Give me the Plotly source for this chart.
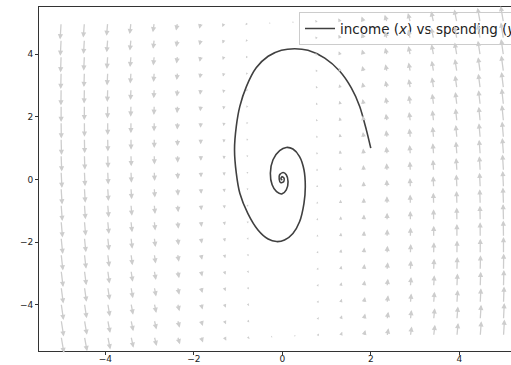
import math
import plotly.graph_objects as go

# ---------------- data ----------------
grid_x = [-5.0, -4.474, -3.947, -3.421, -2.895, -2.368, -1.842, -1.316, -0.789, -0.263,
          0.263, 0.789, 1.316, 1.842, 2.368, 2.895, 3.421, 3.947, 4.474, 5.0]
grid_y = [-5.0, -4.474, -3.947, -3.421, -2.895, -2.368, -1.842, -1.316, -0.789, -0.263,
          0.263, 0.789, 1.316, 1.842, 2.368, 2.895, 3.421, 3.947, 4.474, 5.0]

# vertical field component per column (spending change driven by income)
col_v = [-5.0, -4.47, -3.95, -3.42, -2.9, -2.37, -1.84, -1.32, -0.79, -0.26,
         0.26, 0.79, 1.32, 1.84, 2.37, 2.9, 3.42, 3.95, 4.47, 5.0]
# horizontal field component: part depending on column and part depending on row
col_u = [0.27, 0.24, 0.21, 0.18, 0.16, 0.13, 0.10, 0.07, 0.04, 0.01,
         -0.01, -0.04, -0.07, -0.10, -0.13, -0.16, -0.18, -0.21, -0.24, -0.27]
row_u = [0.57, 0.51, 0.45, 0.39, 0.33, 0.27, 0.21, 0.15, 0.09, 0.03,
         -0.03, -0.09, -0.15, -0.21, -0.27, -0.33, -0.39, -0.45, -0.51, -0.57]

traj_x = [2.0, 1.9, 1.75, 1.56, 1.3, 0.96, 0.58, 0.28, -0.02, -0.32, -0.59, -0.81,
          -0.96, -1.04, -1.08, -1.04, -0.96, -0.78, -0.55, -0.32, -0.13, 0.05, 0.24,
          0.39, 0.49, 0.52, 0.49, 0.39, 0.24, 0.09, -0.06, -0.21, -0.27, -0.23, -0.13,
          -0.01, 0.09, 0.13, 0.09, 0.02, -0.06, -0.07, -0.04, 0.03, 0.04, -0.01, -0.03, 0.0]
traj_y = [1.0, 1.58, 2.33, 2.92, 3.45, 3.87, 4.12, 4.17, 4.12, 3.93, 3.56, 2.97,
          2.33, 1.69, 0.95, 0.2, -0.44, -1.08, -1.61, -1.9, -1.98, -1.93, -1.72,
          -1.35, -0.76, -0.23, 0.31, 0.73, 0.97, 1.02, 0.92, 0.63, 0.2, -0.17, -0.39,
          -0.46, -0.33, -0.07, 0.15, 0.22, 0.15, 0.01, -0.1, -0.07, 0.04, 0.09, 0.02, -0.02]

x_ticks = [-4, -2, 0, 2, 4]
y_ticks = [-4, -2, 0, 2, 4]
legend_label = "income (<i>x</i>) vs spending (<i>y</i>)"

# ---------------- layout / style ----------------
W, H = 511, 365
M = dict(l=39, r=0, t=7, b=14)
X_RANGE = [-5.5, 5.17]
Y_RANGE = [-5.47, 5.5]
ARROW_PX = 3.34          # pixels per field unit
ARROW_COLOR = "#cdcdcd"
FONT = "DejaVu Sans"

px_x = (W - M["l"] - M["r"]) / (X_RANGE[1] - X_RANGE[0])
px_y = (H - M["t"] - M["b"]) / (Y_RANGE[1] - Y_RANGE[0])

annotations = []
for i, gx in enumerate(grid_x):
    for j, gy in enumerate(grid_y):
        u = col_u[i] + row_u[j]
        v = col_v[i]
        upx, vpx = u * ARROW_PX, v * ARROW_PX
        L = math.hypot(upx, vpx)
        f = min(1.0, L / 7.0)
        annotations.append(dict(
            x=gx + upx / px_x, y=gy + vpx / px_y, ax=gx, ay=gy,
            xref="x", yref="y", axref="x", ayref="y",
            text="", showarrow=True, arrowhead=2, arrowsize=0.8,
            arrowwidth=max(0.25, 1.3 * f), arrowcolor=ARROW_COLOR,
            standoff=0, startstandoff=0,
        ))

fig = go.Figure()
fig.add_trace(go.Scatter(
    x=traj_x, y=traj_y, mode="lines", name=legend_label,
    line=dict(color="#404040", width=1.6, shape="spline", smoothing=0.8),
))

axis_common = dict(
    showgrid=False, zeroline=False, showline=True, linecolor="#333", linewidth=1,
    mirror=True, ticks="outside", ticklen=3, tickwidth=0.8, tickcolor="#333",
    tickfont=dict(family=FONT, size=9, color="#222"),
)
fig.update_xaxes(range=X_RANGE, tickvals=x_ticks, ticklabelstandoff=-4, **axis_common)
fig.update_yaxes(range=Y_RANGE, tickvals=y_ticks, **axis_common)

fig.update_layout(
    width=W, height=H, margin=dict(**M, pad=0, autoexpand=False),
    paper_bgcolor="white", plot_bgcolor="white",
    annotations=annotations,
    showlegend=True,
    legend=dict(x=(299 - M["l"]) / (W - M["l"] - M["r"]), y=0.985,
                xanchor="left", yanchor="top",
                bgcolor="rgba(255,255,255,0.85)", bordercolor="#cccccc", borderwidth=1,
                font=dict(family=FONT, size=13.5, color="#222")),
)

fig.write_html("out.html",
               config={"displayModeBar": False},
               post_script="document.body.style.margin='0';document.body.style.overflow='hidden';")
